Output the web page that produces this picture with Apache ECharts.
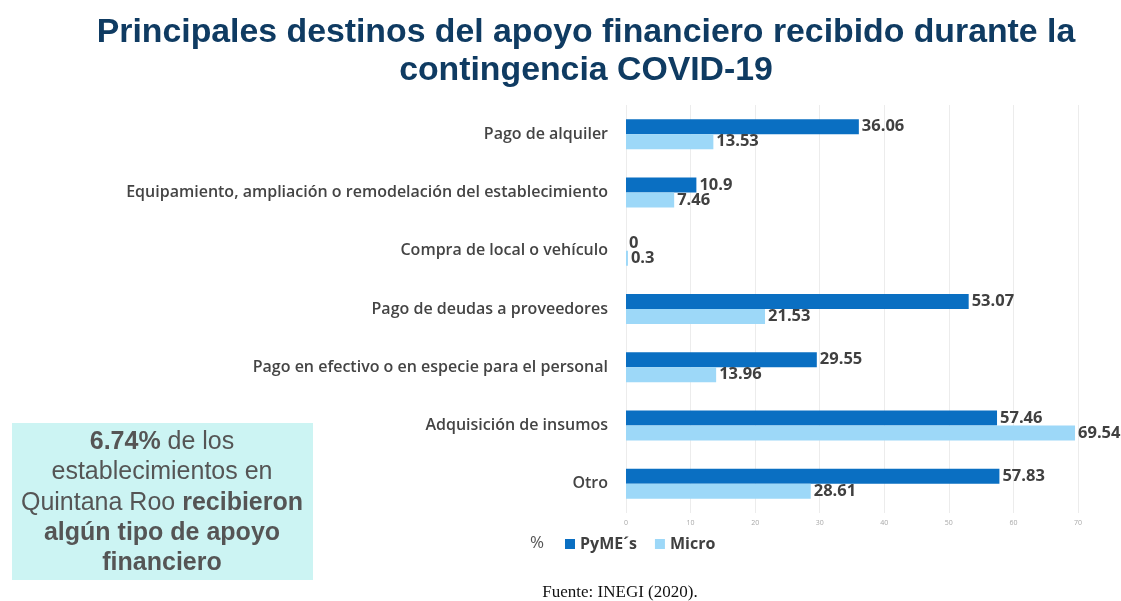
<!DOCTYPE html>
<html>
<head>
<meta charset="utf-8">
<script src="https://cdn.jsdelivr.net/npm/echarts@6/dist/echarts.min.js"></script>
<style>
  html, body { margin: 0; padding: 0; background: #ffffff; }
  #chart { width: 1121px; height: 601px; }
</style>
</head>
<body>
<div id="chart"></div>
<script>
// Destinos del apoyo financiero (porcentaje de establecimientos)
const categories = [
  'Pago de alquiler',
  'Equipamiento, ampliación o remodelación del establecimiento',
  'Compra de local o vehículo',
  'Pago de deudas a proveedores',
  'Pago en efectivo o en especie para el personal',
  'Adquisición de insumos',
  'Otro'
];
const pymeValues  = [36.06, 10.9, 0, 53.07, 29.55, 57.46, 57.83];
const microValues = [13.53, 7.46, 0.3, 21.53, 13.96, 69.54, 28.61];
const xTicks = [0, 10, 20, 30, 40, 50, 60, 70];

const labelFont = '"Open Sans", "DejaVu Sans", sans-serif';

const chart = echarts.init(document.getElementById('chart'), null, { renderer: 'canvas' });

const valueLabel = {
  show: true,
  position: 'right',
  distance: 3,
  color: '#404040',
  fontFamily: labelFont,
  fontWeight: 'bold',
  fontSize: 16.5
};

chart.setOption({
  backgroundColor: '#ffffff',
  animation: false,
  title: {
    text: 'Principales destinos del apoyo financiero recibido durante la\ncontingencia COVID-19',
    left: 581,
    textAlign: 'center',
    top: 9,
    textStyle: {
      color: '#0f3b62',
      fontFamily: '"Liberation Sans", Arial, sans-serif',
      fontWeight: 'bold',
      fontSize: 33.8,
      lineHeight: 38
    }
  },
  grid: { left: 626, right: 43, top: 105, bottom: 88, containLabel: false },
  legend: {
    left: 560,
    top: 531,
    itemWidth: 10,
    itemHeight: 10,
    itemGap: 18,
    icon: 'rect',
    textStyle: { color: '#404040', fontFamily: labelFont, fontWeight: 'bold', fontSize: 16 },
    data: ['PyME´s', 'Micro']
  },
  xAxis: {
    type: 'value',
    min: xTicks[0],
    max: xTicks[xTicks.length - 1],
    interval: 10,
    axisLine: { show: false },
    axisTick: { show: false },
    splitLine: { show: true, lineStyle: { color: '#ececec', width: 1 } },
    axisLabel: { color: '#a8a8a8', fontSize: 7, margin: 6, fontFamily: labelFont }
  },
  yAxis: {
    type: 'category',
    inverse: true,
    data: categories,
    axisLine: { show: false },
    axisTick: { show: false },
    axisLabel: {
      color: '#444444',
      fontFamily: labelFont,
      fontWeight: 600,
      fontSize: 16,
      margin: 18
    }
  },
  series: [
    {
      name: 'PyME´s',
      type: 'bar',
      data: pymeValues,
      barWidth: 15,
      barGap: '0%',
      itemStyle: { color: '#0a6fc2' },
      label: valueLabel
    },
    {
      name: 'Micro',
      type: 'bar',
      data: microValues,
      barWidth: 15,
      itemStyle: { color: '#9dd8f8' },
      label: valueLabel
    }
  ],
  graphic: [
    {
      type: 'text',
      left: 530,
      top: 535,
      style: { text: '%', fill: '#555555', font: '17px "Open Sans", sans-serif' }
    },
    {
      type: 'rect',
      shape: { x: 12, y: 423, width: 301, height: 157 },
      style: { fill: '#ccf4f3' }
    },
    {
      type: 'text',
      x: 162,
      y: 427,
      style: {
        text: '{b|6.74%}{n| de los}\n{n|establecimientos en}\n{n|Quintana Roo }{b|recibieron}\n{b|algún tipo de apoyo}\n{b|financiero}',
        align: 'center',
        verticalAlign: 'top',
        rich: {
          n: { fill: '#555555', fontFamily: '"Liberation Sans", Arial, sans-serif', fontSize: 25, lineHeight: 30.3 },
          b: { fill: '#555555', fontFamily: '"Liberation Sans", Arial, sans-serif', fontSize: 25, fontWeight: 'bold', lineHeight: 30.3 }
        }
      }
    },
    {
      type: 'text',
      x: 620,
      y: 584,
      style: {
        text: 'Fuente: INEGI (2020).',
        align: 'center',
        fill: '#111111',
        font: '17px "Liberation Serif", "Times New Roman", serif'
      }
    }
  ]
});
</script>
</body>
</html>
